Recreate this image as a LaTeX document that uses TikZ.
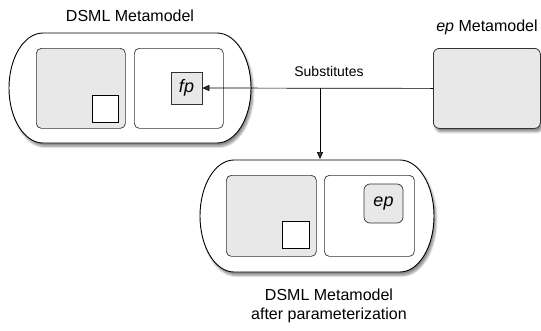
\documentclass[tikz,border=0pt]{standalone}
\usepackage{fontspec}
\setmainfont{Liberation Sans}
\usetikzlibrary{arrows.meta,shadows.blur,calc}

\tikzset{
  outerline/.style={draw=black, line width=0.9pt, fill=white,
    blur shadow={shadow xshift=2pt, shadow yshift=-3.5pt, shadow blur steps=6, shadow opacity=45}},
  panel/.style={draw=black!80, line width=0.7pt, rounded corners=5pt, anchor=north west, inner sep=0pt},
  greypanel/.style={panel, fill=black!9},
  whitepanel/.style={panel, fill=white},
  hole/.style={draw=black, line width=0.7pt, fill=white, anchor=north west, inner sep=0pt},
  param/.style={draw=black!80, line width=0.7pt, fill=black!9, inner sep=0pt,
    font=\fontsize{18}{20}\selectfont\itshape},
  metabox/.style={draw=black!80, line width=0.8pt, fill=black!9, rounded corners=6pt,
    anchor=north west, inner sep=0pt,
    blur shadow={shadow xshift=2pt, shadow yshift=-3.5pt, shadow blur steps=6, shadow opacity=45}},
  caption/.style={font=\fontsize{16}{19}\selectfont, align=center},
  conn/.style={line width=0.7pt, -{Triangle[length=7pt,width=6pt]}},
}

% rounded container with elliptical ends: x1 y1 x2 y2 rx
\newcommand\stadium[5]{%
  \draw[outerline] (#1+#5,#2) -- (#3-#5,#2)
    arc[start angle=-90, end angle=90, x radius=#5, y radius={(#4-#2)/2}]
    -- (#1+#5,#4)
    arc[start angle=90, end angle=270, x radius=#5, y radius={(#4-#2)/2}]
    -- cycle;}

\begin{document}
\begin{tikzpicture}[x=1pt, y=-1pt]
  \useasboundingbox (0,0) rectangle (541,330);

  % original metamodel
  \node[caption] (dsmltitle) at (130,16) {DSML Metamodel};
  \stadium{9}{33}{251}{143}{34}
  \node[greypanel, minimum width=89pt, minimum height=80pt] (lpanel) at (36,48) {};
  \node[hole, minimum width=26pt, minimum height=27pt] (lhole) at (92,95) {};
  \node[whitepanel, minimum width=89pt, minimum height=80pt] (rpanel) at (134,48) {};
  \node[param, minimum width=31pt, minimum height=32pt] (fp) at (186.5,88) {fp};

  % parameter metamodel
  \node[caption] (eptitle) at (487,27) {\textit{ep} Metamodel};
  \node[metabox, minimum width=107pt, minimum height=80pt] (epmeta) at (433,48) {};

  % parameterized metamodel
  \stadium{200}{160}{434}{272}{34}
  \node[greypanel, minimum width=90pt, minimum height=81pt] (blpanel) at (226,175) {};
  \node[hole, minimum width=27pt, minimum height=27pt] (blhole) at (282,221) {};
  \node[whitepanel, minimum width=90pt, minimum height=81pt] (brpanel) at (324,175) {};
  \node[param, rounded corners=6pt, minimum width=39pt, minimum height=39pt] (ep) at (383.5,203.5) {ep};
  \node[caption] (aftertitle) at (329,306) {DSML Metamodel\\after parameterization};

  % substitution
  \coordinate (split) at (320,88);
  \coordinate (target) at (320,159);
  \draw[conn] (epmeta.west) -- (fp.east);
  \draw[conn] (split) -- (target);
  \node[font=\fontsize{14}{16}\selectfont] (subst) at (329,71) {Substitutes};
\end{tikzpicture}
\end{document}
